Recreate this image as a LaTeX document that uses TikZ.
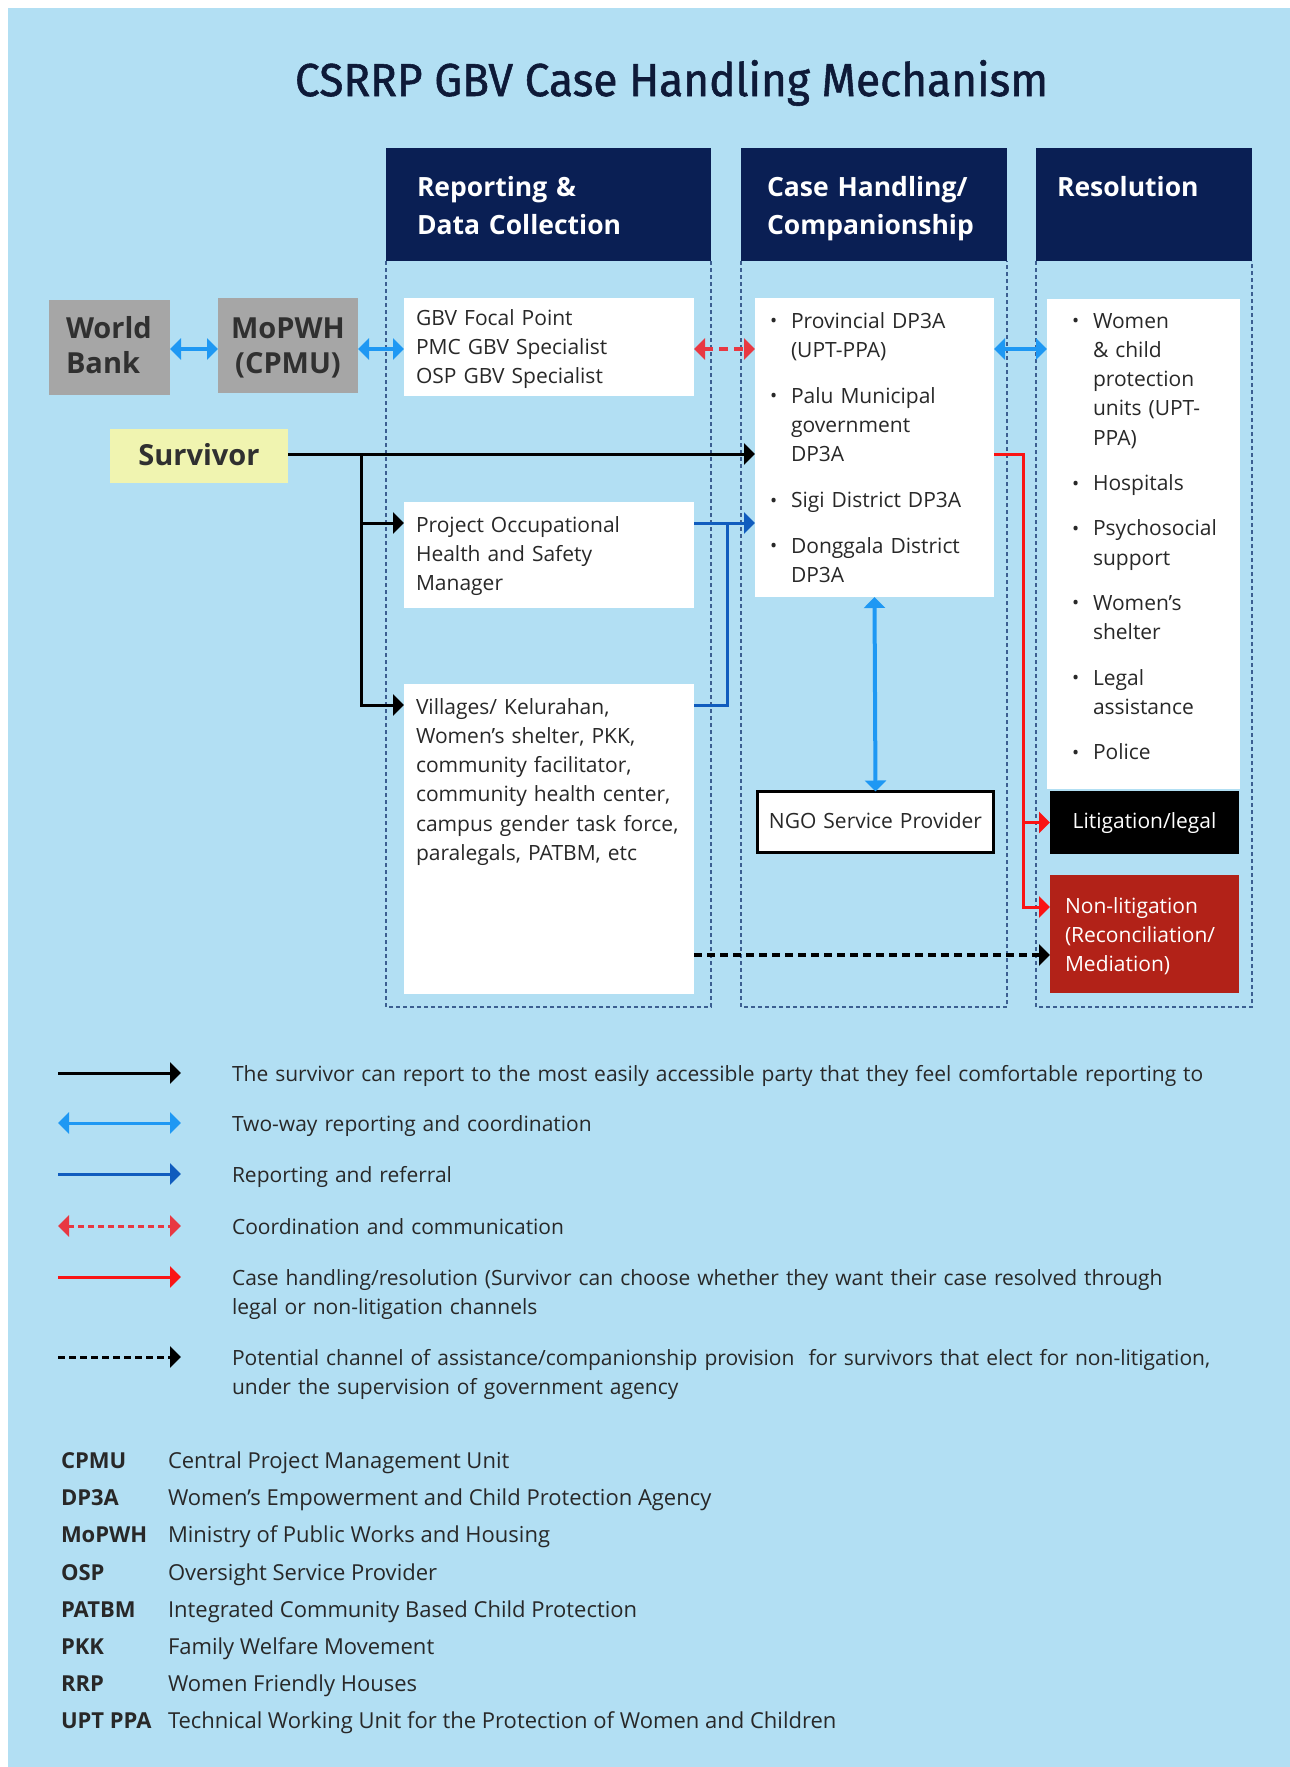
\documentclass[tikz,border=0pt]{standalone}
\usepackage{fontspec}
\setmainfont{Open Sans}
\newfontfamily\titlefont{Fira Sans}[FakeBold=1.2]
\usetikzlibrary{arrows.meta}
\hyphenpenalty=10000
\exhyphenpenalty=10000
\definecolor{bgblue}{RGB}{178,223,243}
\definecolor{navy}{RGB}{10,31,84}
\definecolor{titlenavy}{RGB}{14,26,56}
\definecolor{boxgray}{RGB}{166,166,166}
\definecolor{survy}{RGB}{240,244,176}
\definecolor{txt}{RGB}{40,40,40}
\definecolor{darktxt}{RGB}{48,48,48}
\definecolor{lblue}{RGB}{30,152,243}
\definecolor{dblue}{RGB}{16,92,190}
\definecolor{cred}{RGB}{232,56,66}
\definecolor{rred}{RGB}{250,20,20}
\definecolor{nonred}{RGB}{178,34,24}
\definecolor{framec}{RGB}{60,95,145}
\newcommand{\fsz}[2]{\fontsize{#1}{#2}\selectfont}
\newcommand{\bu}{\makebox[18pt][l]{\hspace{-3pt}\raisebox{0.5pt}{\fsz{19}{19}\textbullet}}}
\newcommand{\ind}[1]{\hspace*{#1pt}}
\tikzset{
  every node/.style={inner sep=0pt, outer sep=0pt},
  hdr/.style={fill=navy, text=white, anchor=north west, align=left, inner ysep=0pt,
    font=\bfseries\fsz{26.5}{38}, text height=48pt, text depth=65pt},
  gbox/.style={fill=boxgray, text=darktxt, anchor=north west, align=left, inner ysep=0pt,
    font=\bfseries\fsz{29}{35}},
  wbox/.style={fill=white, anchor=north west, align=left, text=txt, inner sep=0pt,
    font=\fsz{21}{29.3}},
  colframe/.style={draw=framec, line width=1.3pt, dash pattern=on 4pt off 3pt},
  lbarr/.style={draw=lblue, line width=4pt,
    {Triangle[width=21pt,length=11pt]}-{Triangle[width=21pt,length=11pt]}},
  rdarr/.style={draw=cred, line width=3.5pt, dash pattern=on 9pt off 6pt,
    {Triangle[width=21pt,length=11pt]}-{Triangle[width=21pt,length=11pt]}},
  blkarr/.style={draw=black, line width=3pt, -{Triangle[width=21pt,length=11pt]}},
  blkdash/.style={draw=black, line width=3.5pt, dash pattern=on 8pt off 5pt,
    -{Triangle[width=21pt,length=11pt]}},
  dbarr/.style={draw=dblue, line width=3pt, -{Triangle[width=21pt,length=11pt]}},
  dbline/.style={draw=dblue, line width=3pt},
  redarr/.style={draw=rred, line width=3pt, -{Triangle[width=21pt,length=11pt]}},
  legtxt/.style={anchor=base west, align=left, text=txt, text width=1020pt,
    font=\fsz{21}{29.3}},
  abbr/.style={anchor=base west, text=txt, font=\bfseries\fsz{22}{29}},
  abdef/.style={anchor=base west, text=txt, font=\fsz{22}{29}},
}
\begin{document}
\begin{tikzpicture}[x=1pt,y=-1pt]
\useasboundingbox (0,0) rectangle (1290,1767);
\fill[bgblue] (8,8) rectangle (1290,1767);

% title
\node[anchor=base west, text=titlenavy] (title) at (295,96)
  {\resizebox{753pt}{36pt}{\titlefont CSRRP GBV Case Handling Mechanism}};

% column headers and frames
\coordinate (ybot) at (0,1007);
\node[hdr, text width=263pt, inner xsep=31pt] (h1) at (386,148) {Reporting \&\\Data Collection};
\node[hdr, text width=214pt, inner xsep=26pt] (h2) at (741,148) {Case Handling/\\Companionship};
\node[hdr, text width=174pt, inner xsep=21pt] (h3) at (1036,148) {Resolution};
\foreach \h in {h1,h2,h3}{
  \draw[colframe] (\h.south west) -- (\h.south west |- ybot) -- (\h.south east |- ybot) -- (\h.south east);
}

% left boxes
\node[gbox, text width=87pt, inner xsep=17pt, text height=38pt, text depth=57pt] (wb) at (49,300) {World\\Bank};
\node[gbox, text width=140pt, inner xsep=0pt, align=center, text height=40pt, text depth=55pt] (mo) at (218,298) {MoPWH\\(CPMU)};
\node[fill=survy, anchor=north west, text width=178pt, align=center, text height=36pt, text depth=18pt,
  font=\bfseries\fsz{29}{35}, text=darktxt] (surv) at (110,429) {Survivor};

% column 1 boxes
\node[wbox, text width=290pt, text height=27pt, text depth=71pt] (gbv) at (404,298)
  {\ind{12}GBV Focal Point\\\ind{12}PMC GBV Specialist\\\ind{12}OSP GBV Specialist};
\node[wbox, text width=290pt, text height=30pt, text depth=76pt] (ohs) at (404,502)
  {\ind{12}Project Occupational\\\ind{12}Health and Safety\\\ind{12}Manager};
\node[wbox, text width=290pt, text height=30pt, text depth=280pt] (vil) at (404,684)
  {\ind{12}Villages/ Kelurahan,\\\ind{12}Women’s shelter, PKK,\\\ind{12}community facilitator,\\\ind{12}community health center,\\\ind{12}campus gender task force,\\\ind{12}paralegals, PATBM, etc};

% column 2 boxes
\node[wbox, text width=239pt, text height=30pt, text depth=269pt] (case) at (755,298)
  {\ind{18}\bu Provincial DP3A\\\ind{36}(UPT-PPA)\\[16.5pt]
   \ind{18}\bu Palu Municipal\\\ind{36}government\\\ind{36}DP3A\\[16.5pt]
   \ind{18}\bu Sigi District DP3A\\[16.5pt]
   \ind{18}\bu Donggala District\\\ind{36}DP3A};
\node[wbox, draw=black, line width=3pt, text width=236pt, align=center, text height=37pt, text depth=24pt] (ngo) at (757.5,791.5)
  {NGO Service Provider};

% column 3 boxes
\node[wbox, text width=193pt, text height=29pt, text depth=461pt] (res) at (1047,299)
  {\ind{28}\bu Women\\\ind{46}\& child\\\ind{46}protection\\\ind{46}units (UPT-\\\ind{46}PPA)\\[16pt]
   \ind{28}\bu Hospitals\\[16pt]
   \ind{28}\bu Psychosocial\\\ind{46}support\\[16pt]
   \ind{28}\bu Women’s\\\ind{46}shelter\\[16pt]
   \ind{28}\bu Legal\\\ind{46}assistance\\[16pt]
   \ind{28}\bu Police};
\node[wbox, fill=black, text=white, text width=189pt, align=center, text height=37pt, text depth=26pt] (lit) at (1050,791)
  {Litigation/legal};
\node[wbox, fill=nonred, text=white, text width=189pt, text height=38pt, text depth=80pt] (non) at (1050,875)
  {\ind{15}Non-litigation\\\ind{15}(Reconciliation/\\\ind{15}Mediation)};

% helper coordinates
\coordinate (ya) at (0,349);
\coordinate (ys) at (0,454);
\coordinate (yo) at (0,523);
\coordinate (yv) at (0,705);
\coordinate (yn) at (0,907);
\coordinate (yd) at (0,955);
\coordinate (jx) at (361,454);
\coordinate (bx) at (727,0);
\coordinate (rx) at (1023,0);

% connectors
\draw[lbarr] (wb.east |- ya) -- (mo.west |- ya);
\draw[lbarr] (mo.east |- ya) -- (gbv.west |- ya);
\draw[rdarr] (gbv.east |- ya) -- (case.west |- ya);
\draw[lbarr] (case.east |- ya) -- (res.west |- ya);
\draw[blkarr] (surv.east |- ys) -- (case.west |- ys);
\draw[blkarr] (jx) |- (vil.west |- yv);
\draw[blkarr] (jx |- yo) -- (ohs.west |- yo);
\draw[dbline] (vil.east |- yv) -| (bx |- yo);
\draw[dbarr] (ohs.east |- yo) -- (case.west |- yo);
\draw[redarr] (case.east |- ys) -| (rx |- yn) -- (non.west |- yn);
\draw[redarr] (rx |- lit.west) -- (lit.west);
\draw[lbarr] (case.south) -- (ngo.north);
\draw[blkdash] (vil.east |- yd) -- (non.west |- yd);

% legend
\foreach \n/\y in {1/1073,2/1123,3/1174,4/1226,5/1277,6/1357}{
  \coordinate (la\n) at (58,\y);
  \coordinate (lb\n) at (181,\y);
}
\draw[blkarr] (la1) -- (lb1);
\draw[lbarr, line width=3pt] (la2) -- (lb2);
\draw[dbarr] (la3) -- (lb3);
\draw[rdarr, line width=3pt, dash pattern=on 6pt off 4pt] (la4) -- (lb4);
\draw[redarr] (la5) -- (lb5);
\draw[blkdash, line width=3pt, dash pattern=on 7pt off 4pt] (la6) -- (lb6);

\node[legtxt] (t1) at (232,1081) {The survivor can report to the most easily accessible party that they feel comfortable reporting to};
\node[legtxt] (t2) at (232,1131) {Two-way reporting and coordination};
\node[legtxt] (t3) at (232,1182) {Reporting and referral};
\node[legtxt] (t4) at (232,1234) {Coordination and communication};
\node[legtxt] (t5) at (232,1285) {Case handling/resolution (Survivor can choose whether they want their case resolved through\\legal or non-litigation channels};
\node[legtxt] (t6) at (232,1365) {Potential channel of assistance/companionship provision\ \ for survivors that elect for non-litigation,\\under the supervision of government agency};

% abbreviations
\foreach \k/\a/\d/\y in {
  1/CPMU/Central Project Management Unit/1468,
  2/DP3A/Women’s Empowerment and Child Protection Agency/1505,
  3/MoPWH/Ministry of Public Works and Housing/1542,
  4/OSP/Oversight Service Provider/1580,
  5/PATBM/Integrated Community Based Child Protection/1617,
  6/PKK/Family Welfare Movement/1654,
  7/RRP/Women Friendly Houses/1691,
  8/UPT PPA/Technical Working Unit for the Protection of Women and Children/1728}{
  \node[abbr] (ab\k) at (61,\y) {\a};
  \node[abdef] (df\k) at (168,\y) {\d};
}
\end{tikzpicture}
\end{document}
